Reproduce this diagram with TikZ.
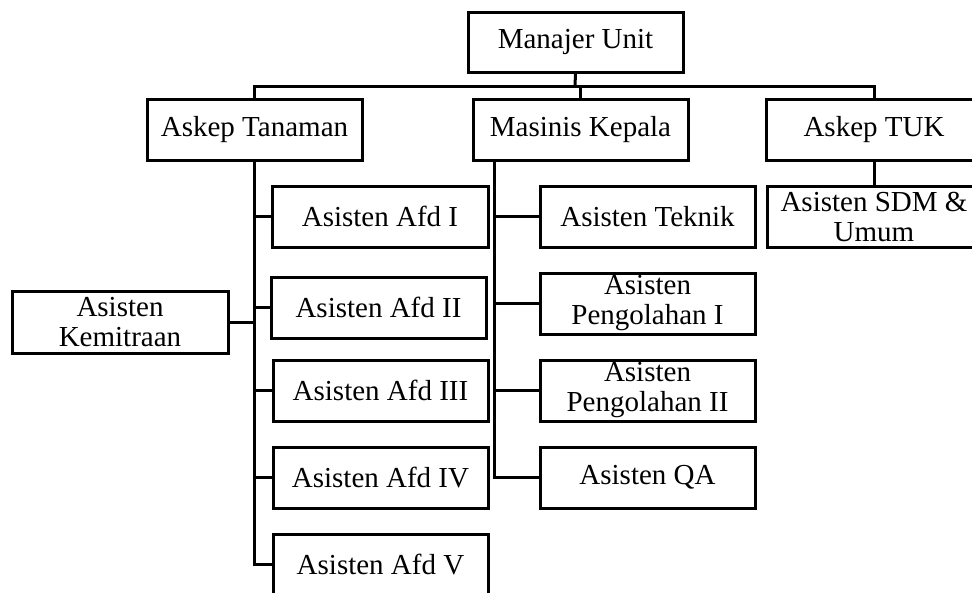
\documentclass[tikz,border=0pt]{standalone}
\usepackage{fontspec}
\setmainfont{Liberation Serif}
\begin{document}
\begin{tikzpicture}
[x=1pt, y=-1pt,
 box/.style={rectangle, draw=black, line width=3pt, minimum width=215pt, minimum height=61pt, inner sep=0pt, align=center, font=\fontsize{29}{30}\selectfont},
 link/.style={black, line width=3pt},
]
\clip (0,0) rectangle (972,592);

%top
\node[box, minimum height=60pt] (mu) at (575.5,42) {Manajer Unit};
\coordinate (bus) at (575,86);

\node[box] (at)  at (254.5,129.5) {Askep Tanaman};
\node[box] (mk)  at (580.5,129.5) {Masinis Kepala};
\node[box] (tuk) at (874,129.5)   {Askep TUK};

\draw[link] (mu.south) -- (bus);
\draw[link] (at.north) |- (bus) -| (tuk.north);
\draw[link] (mk.north) -- (mk.north |- bus);

%Askep Tanaman
\node[box, minimum width=216pt] (afd1) at (380,216.5)   {Asisten Afd I};
\node[box] (afd2) at (378.5,307.5) {Asisten Afd II};
\node[box] (afd3) at (380.5,390.5) {Asisten Afd III};
\node[box] (afd4) at (380.5,477.5) {Asisten Afd IV};
\node[box] (afd5) at (380.5,564.5) {Asisten Afd V};
\node[box, minimum width=216pt, minimum height=62pt] (kem) at (120,322) {Asisten\\Kemitraan};

\draw[link] (at.south) |- (afd5.west);
\foreach \i in {1,...,4}
  \draw[link] (afd\i.west) -- (afd\i.west -| at.south);
\draw[link] (kem.east) -- (kem.east -| at.south);

%Masinis Kepala
\node[box] (tek) at (647.5,216.5) {Asisten Teknik};
\node[box] (p1)  at (647.5,303.5) {Asisten\\Pengolahan I};
\node[box] (p2)  at (647.5,390.5) {Asisten\\Pengolahan II};
\node[box] (qa)  at (647.5,477.5) {Asisten QA};
\coordinate (mkspine) at (494,160);

\draw[link] (mkspine) |- (qa.west);
\foreach \n in {tek,p1,p2}
  \draw[link] (\n.west) -- (\n.west -| mkspine);

%Askep TUK
\node[box, minimum width=214pt] (sdm) at (874,216.5) {Asisten SDM \&\\Umum};
\draw[link] (tuk.south) -- (sdm.north);

\end{tikzpicture}
\end{document}
